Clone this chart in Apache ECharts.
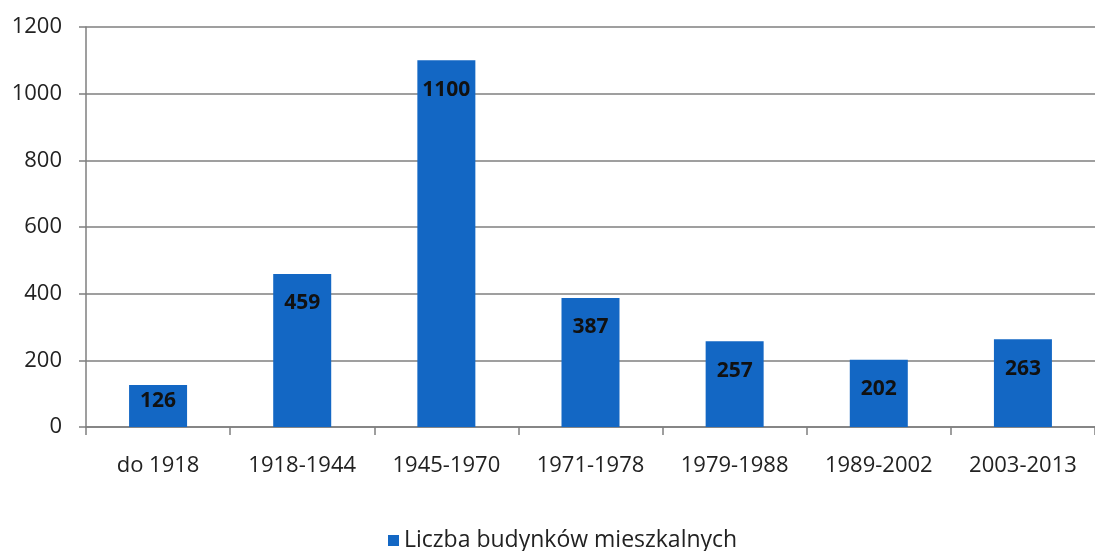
<!DOCTYPE html>
<html>
<head>
<meta charset="utf-8">
<script src="https://cdn.jsdelivr.net/npm/echarts@6/dist/echarts.min.js"></script>
<style>
  html, body { margin: 0; padding: 0; background: #fff; }
  #main { width: 1095px; height: 551px; }
</style>
</head>
<body>
<div id="main"></div>
<script>
  // dane z wykresu
  var categories = ['do 1918', '1918-1944', '1945-1970', '1971-1978', '1979-1988', '1989-2002', '2003-2013'];
  var values = [126, 459, 1100, 387, 257, 202, 263];
  var seriesName = 'Liczba budynków mieszkalnych';
  var yTicks = [0, 200, 400, 600, 800, 1000, 1200];

  var chart = echarts.init(document.getElementById('main'));

  var barData = values.map(function (v) {
    // niski słupek - etykieta bliżej góry
    if (v < 150) {
      return { value: v, label: { distance: 6 } };
    }
    return v;
  });

  var option = {
    animation: false,
    textStyle: { fontFamily: 'Open Sans' },
    grid: {
      left: 86,
      top: 27,
      width: 1020,
      height: 400
    },
    legend: {
      left: 383,
      top: 524,
      itemWidth: 11,
      itemHeight: 11,
      itemGap: 8,
      icon: 'rect',
      textStyle: { fontSize: 23, color: '#222', fontFamily: 'Open Sans' },
      data: [seriesName]
    },
    xAxis: {
      type: 'category',
      data: categories,
      axisLine: { lineStyle: { color: '#7f7f7f', width: 1.5 } },
      axisTick: { show: true, length: 8, lineStyle: { color: '#7f7f7f', width: 1.5 } },
      axisLabel: { fontSize: 22, color: '#222', margin: 28, fontFamily: 'Open Sans' }
    },
    yAxis: {
      type: 'value',
      min: yTicks[0],
      max: yTicks[yTicks.length - 1],
      interval: 200,
      axisLine: { show: true, lineStyle: { color: '#7f7f7f', width: 1.5 } },
      axisTick: { show: true, length: 7, lineStyle: { color: '#7f7f7f', width: 1.5 } },
      splitLine: { show: true, lineStyle: { color: '#7f7f7f', width: 1.5 } },
      axisLabel: {
        fontSize: 22,
        color: '#222',
        margin: 24,
        fontFamily: 'Open Sans',
        formatter: function (v) { return String(v); }
      }
    },
    series: [
      {
        name: seriesName,
        type: 'bar',
        barWidth: 58,
        data: barData,
        itemStyle: { color: '#1367C4' },
        label: {
          show: true,
          position: 'insideTop',
          distance: 19,
          fontSize: 21,
          fontWeight: 'bold',
          color: '#111',
          fontFamily: 'Open Sans'
        }
      }
    ]
  };

  chart.setOption(option);
</script>
</body>
</html>
